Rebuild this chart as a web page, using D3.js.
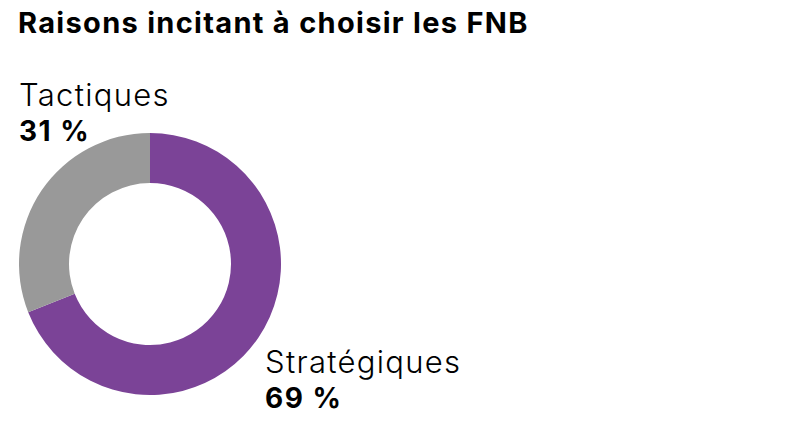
<!DOCTYPE html>
<html>
<head>
  <meta charset="utf-8">
  <script src="https://d3js.org/d3.v7.min.js"></script>
  <style>
    body {
      margin: 0;
      background: white;
      font-family: Inter, "Noto Sans", sans-serif;
    }
    .title {
      font-size: 29px;
      font-weight: 700;
      letter-spacing: 1.3px;
    }
    .label {
      font-size: 31px;
      font-weight: 300;
      letter-spacing: 1.3px;
    }
    .value {
      font-size: 28px;
      font-weight: 700;
      letter-spacing: 1.5px;
    }
  </style>
</head>
<body>
  <div id="chart"></div>
  <script>
    const categories = ['Stratégiques', 'Tactiques'];
    const values = [69, 31];
    const colors = ['#7b4397', '#999999'];

    const width = 800, height = 430;
    const cx = 150, cy = 264;
    const outerR = 131, innerR = 81;

    const svg = d3.select('#chart')
      .append('svg')
      .attr('width', width)
      .attr('height', height);

    svg.append('text')
      .attr('class', 'title')
      .attr('x', 18)
      .attr('y', 33)
      .text('Raisons incitant à choisir les FNB');

    const data = categories.map((c, i) => ({ name: c, value: values[i], color: colors[i] }));

    const pie = d3.pie().sort(null).value(d => d.value);
    const arc = d3.arc().innerRadius(innerR).outerRadius(outerR);

    svg.append('g')
      .attr('transform', `translate(${cx},${cy})`)
      .selectAll('path')
      .data(pie(data))
      .join('path')
      .attr('d', arc)
      .attr('fill', d => d.data.color);

    // label positions (name line, value line)
    const labelPos = {
      'Tactiques': { x: 19, y: 106 },
      'Stratégiques': { x: 265, y: 373 }
    };

    data.forEach(d => {
      const p = labelPos[d.name];
      svg.append('text')
        .attr('class', 'label')
        .attr('x', p.x)
        .attr('y', p.y)
        .text(d.name);
      svg.append('text')
        .attr('class', 'value')
        .attr('x', p.x)
        .attr('y', p.y + 35)
        .text(d.value + '\u00a0%');
    });
  </script>
</body>
</html>
